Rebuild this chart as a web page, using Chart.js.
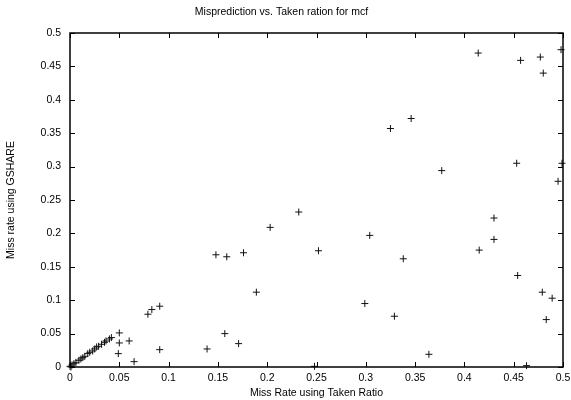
<!DOCTYPE html>
<html>
<head>
<meta charset="utf-8">
<script src="https://cdn.jsdelivr.net/npm/chart.js@4/dist/chart.umd.min.js"></script>
<style>
  html, body { margin: 0; padding: 0; background: #fff; }
  #wrap { width: 571px; height: 400px; }
</style>
</head>
<body>
<div id="wrap"><canvas id="mcfChart"></canvas></div>
<script>
// miss rate using taken ratio (x) and miss rate using GSHARE (y), one pair per branch
const takenRatioMiss = [
  0.414, 0.457, 0.477, 0.480, 0.498, 0.346, 0.325, 0.453, 0.499, 0.495,
  0.377, 0.430, 0.430, 0.415, 0.338, 0.454, 0.479, 0.489, 0.483, 0.364,
  0.463, 0.232, 0.304, 0.252, 0.299, 0.329, 0.248, 0.203, 0.148, 0.159,
  0.176, 0.189, 0.079, 0.083, 0.091, 0.157, 0.171, 0.091, 0.139, 0.065,
  0.060, 0.050, 0.050, 0.049,
  0.042, 0.040, 0.0365, 0.035, 0.032, 0.029, 0.027, 0.025, 0.023, 0.020,
  0.018, 0.015, 0.013, 0.011, 0.009, 0.006, 0.004, 0.002, 0.000, 0.001
];
const gshareMiss = [
  0.470, 0.459, 0.464, 0.440, 0.475, 0.372, 0.357, 0.305, 0.305, 0.278,
  0.294, 0.223, 0.191, 0.175, 0.162, 0.137, 0.112, 0.103, 0.071, 0.019,
  0.002, 0.232, 0.197, 0.174, 0.095, 0.076, 0.001, 0.209, 0.168, 0.165,
  0.171, 0.112, 0.079, 0.086, 0.091, 0.050, 0.035, 0.026, 0.027, 0.008,
  0.039, 0.051, 0.036, 0.020,
  0.044, 0.042, 0.039, 0.037, 0.034, 0.031, 0.030, 0.027, 0.024, 0.022,
  0.020, 0.016, 0.014, 0.012, 0.010, 0.007, 0.005, 0.003, 0.001, 0.000
];
const xTicks = [0, 0.05, 0.1, 0.15, 0.2, 0.25, 0.3, 0.35, 0.4, 0.45, 0.5];
const yTicks = [0, 0.05, 0.1, 0.15, 0.2, 0.25, 0.3, 0.35, 0.4, 0.45, 0.5];

const points = takenRatioMiss.map((x, i) => ({ x: x, y: gshareMiss[i] }));
const font = { family: '"Liberation Sans", Arial, sans-serif', size: 10.5 };
const fmt = v => String(Number(v.toFixed(2)));

// gnuplot style frame: full box and inward ticks on every side
const frame = {
  id: 'frame',
  afterDraw(chart) {
    const { ctx, chartArea: a, scales } = chart;
    const len = 5;
    ctx.save();
    ctx.strokeStyle = '#000';
    ctx.lineWidth = 1;
    ctx.beginPath();
    xTicks.forEach(t => {
      const px = Math.round(scales.x.getPixelForValue(t)) + 0.5;
      ctx.moveTo(px, a.bottom); ctx.lineTo(px, a.bottom - len);
      ctx.moveTo(px, a.top); ctx.lineTo(px, a.top + len);
    });
    yTicks.forEach(t => {
      const py = Math.round(scales.y.getPixelForValue(t)) + 0.5;
      ctx.moveTo(a.left, py); ctx.lineTo(a.left + len, py);
      ctx.moveTo(a.right, py); ctx.lineTo(a.right - len, py);
    });
    ctx.stroke();
    ctx.lineWidth = 1.5;
    ctx.strokeRect(a.left, a.top, a.right - a.left, a.bottom - a.top);
    ctx.restore();
  }
};

new Chart(document.getElementById('mcfChart').getContext('2d'), {
  type: 'scatter',
  data: {
    datasets: [{
      data: points,
      pointStyle: 'cross',
      pointRadius: 3.5,
      pointHoverRadius: 3.5,
      borderColor: '#111',
      backgroundColor: '#111',
      borderWidth: 1,
      clip: false
    }]
  },
  options: {
    responsive: true,
    maintainAspectRatio: false,
    animation: false,
    events: [],
    layout: { padding: { right: 8, left: 0 } },
    plugins: {
      legend: { display: false },
      tooltip: { enabled: false },
      title: {
        display: true,
        text: 'Misprediction vs. Taken ration for mcf',
        color: '#000',
        font: { ...font, weight: 'normal' },
        padding: { top: 6, bottom: 14.4 }
      }
    },
    scales: {
      x: {
        type: 'linear', min: 0, max: 0.5,
        afterBuildTicks: s => { s.ticks = xTicks.map(v => ({ value: v })); },
        afterFit: s => { s.height = 33; s.paddingLeft = 0; s.paddingRight = 0; },
        grid: { display: false, drawTicks: false },
        border: { display: false },
        ticks: { color: '#000', font: font, padding: 5, maxRotation: 0, callback: fmt },
        title: { display: true, text: 'Miss Rate using Taken Ratio', color: '#000', font: font, padding: { top: 0, bottom: 1 } }
      },
      y: {
        type: 'linear', min: 0, max: 0.5,
        afterBuildTicks: s => { s.ticks = yTicks.map(v => ({ value: v })); },
        afterFit: s => { s.width = 70; s.paddingTop = 0; s.paddingBottom = 0; },
        grid: { display: false, drawTicks: false },
        border: { display: false },
        ticks: { color: '#000', font: font, padding: 9, callback: fmt },
        title: { display: true, text: 'Miss rate using GSHARE', color: '#000', font: font, padding: { top: 5, bottom: 0 } }
      }
    }
  },
  plugins: [frame]
});
</script>
</body>
</html>
